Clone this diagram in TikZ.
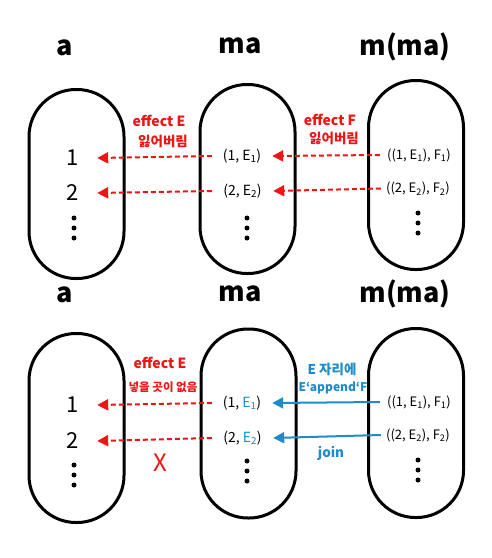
\documentclass[tikz,border=0pt]{standalone}
\usepackage{fontspec}
\setmainfont{Noto Sans CJK KR}
\usetikzlibrary{arrows.meta}
\definecolor{myred}{RGB}{240,20,20}
\definecolor{myblue}{RGB}{30,140,200}
\begin{document}
\begin{tikzpicture}[x=1pt,y=-1pt,
 capsule/.style={draw, line width=3pt, rounded corners=47pt, minimum width=95pt, minimum height=189pt, inner sep=0pt},
 ttl/.style={font=\fontsize{27}{27}\selectfont\bfseries},
 num/.style={font=\fontsize{22}{22}\selectfont, minimum width=48pt, inner sep=0pt},
 item/.style={font=\fontsize{14}{14}\selectfont, inner sep=0pt},
 ritem/.style={font=\fontsize{13}{13}\selectfont, inner sep=0pt},
 redlab/.style={font=\fontsize{14}{14}\selectfont\bfseries, text=myred, inner sep=0pt},
 redkr/.style={font=\fontsize{13.5}{13.5}\selectfont\bfseries, text=myred, inner sep=0pt},
 bluelab/.style={font=\fontsize{13.5}{13.5}\selectfont\bfseries, text=myblue, inner sep=0pt},
 redarrow/.style={draw=myred, line width=2pt, dash pattern=on 5pt off 3pt, -{Triangle[length=11pt,width=11pt,fill=myred]}},
 bluearrow/.style={draw=myblue, line width=2pt, -{Triangle[length=11pt,width=11pt,fill=myblue]}},
 dot/.style={fill=black}
]
\useasboundingbox (0,0) rectangle (491,558);

% ---------- top ----------
\node[ttl] (ta) at (65,48) {a};
\node[ttl] (tma) at (240,46) {ma};
\node[ttl] (tmma) at (405,47) {m(ma)};

\node[capsule] (ca) at (76.5,184) {};
\node[capsule] (cm) at (247.5,179) {};
\node[capsule] (cr) at (416,175) {};

\node[num] (a1) at (73,158) {1};
\node[num] (a2) at (73,193) {2};
\node[item, minimum width=60pt] (m1) at (242,156) {(1, E\textsubscript{1})};
\node[item, minimum width=61pt] (m2) at (242.5,191) {(2, E\textsubscript{2})};
\node[ritem, minimum width=78pt] (r1) at (419,155) {((1, E\textsubscript{1}), F\textsubscript{1})};
\node[ritem, minimum width=74pt] (r2) at (418,188.5) {((2, E\textsubscript{2}), F\textsubscript{2})};

\foreach \x/\y in {74/218, 247/218, 418/213}{
  \fill[dot] (\x,\y) circle (2.5pt);
  \fill[dot] (\x,\y+10) circle (2.5pt);
  \fill[dot] (\x,\y+20) circle (2.5pt);
}

\draw[redarrow] (m1.west) -- (a1.east);
\draw[redarrow] (m2.west) -- (a2.east);
\draw[redarrow] (r1.west) -- (m1.east);
\draw[redarrow] (r2.west) -- (m2.east);

\node[redlab] (le1) at (159,121) {effect E};
\node[redkr] (lk1) at (163,141) {잃어버림};
\node[redlab] (lf1) at (330,120) {effect F};
\node[redkr] (lk2) at (334,138) {잃어버림};

% ---------- bottom ----------
\node[ttl] (ba) at (65,295) {a};
\node[ttl] (bma) at (240,294) {ma};
\node[ttl] (bmma) at (405,294) {m(ma)};

\node[capsule] (bca) at (76.5,428) {};
\node[capsule] (bcm) at (248.5,423.5) {};
\node[capsule] (bcr) at (416,423) {};

\node[num] (b1) at (73,405) {1};
\node[num] (b2) at (73,441) {2};
\node[item, minimum width=60pt] (n1) at (242,403) {(1, \textcolor{myblue}{E\textsubscript{1}})};
\node[item, minimum width=61pt] (n2) at (242.5,438) {(2, \textcolor{myblue}{E\textsubscript{2}})};
\node[ritem, minimum width=78pt] (s1) at (419,402) {((1, E\textsubscript{1}), F\textsubscript{1})};
\node[ritem, minimum width=74pt] (s2) at (418,435) {((2, E\textsubscript{2}), F\textsubscript{2})};

\foreach \x/\y in {74/465, 247/461, 418/460}{
  \fill[dot] (\x,\y) circle (2.5pt);
  \fill[dot] (\x,\y+10) circle (2.5pt);
  \fill[dot] (\x,\y+20) circle (2.5pt);
}

\draw[redarrow] (n1.west) -- (b1.east);
\draw[redarrow] (n2.west) -- (b2.east);
\draw[bluearrow] (s1.west) -- (n1.east);
\draw[bluearrow] (s2.west) -- (n2.east);

\node[redlab] (le2) at (160,363) {effect E};
\node[redkr, font=\fontsize{11.5}{11.5}\selectfont\bfseries] (lk3) at (163,387) {넣을 곳이 없음};
\node[text=myred, font=\fontsize{24}{24}\selectfont, inner sep=0pt] (xx) at (160,463) {X};

\node[bluelab] (bl1) at (332,369) {E 자리에};
\node[bluelab, font=\fontsize{12}{12}\selectfont\bfseries] (bl2) at (333,388) {E`append`F};
\node[bluelab] (bl3) at (331,453) {join};
\end{tikzpicture}
\end{document}
